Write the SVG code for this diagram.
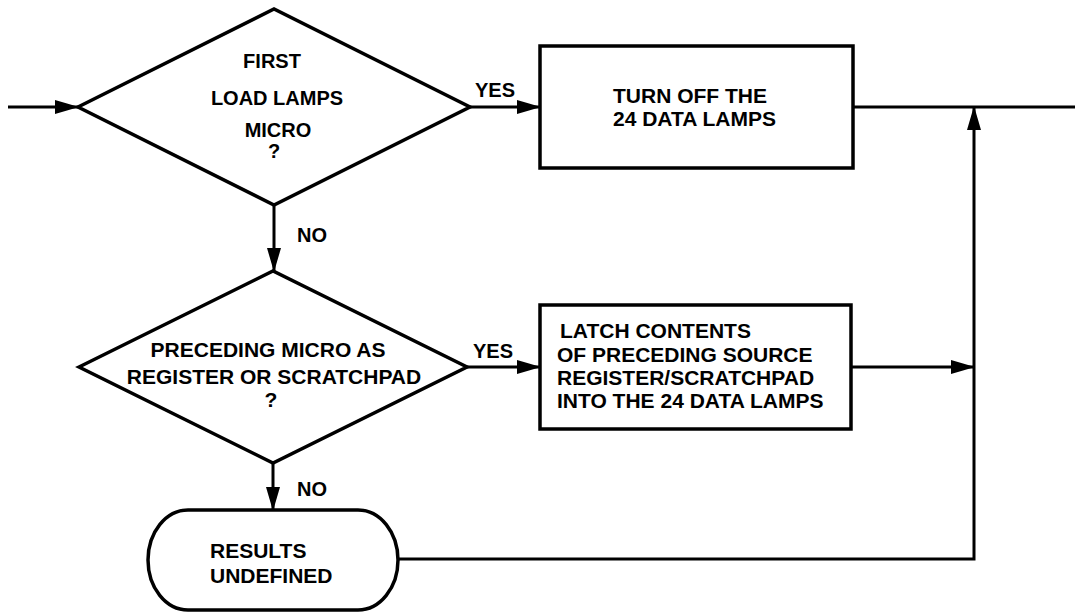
<svg xmlns="http://www.w3.org/2000/svg" width="1075" height="612" viewBox="0 0 1075 612">
<defs>
<style>
.shape{fill:#fff;stroke:#000;stroke-width:3.5;stroke-linejoin:miter}
.conn{fill:none;stroke:#000;stroke-width:3}
.t{font-family:"Liberation Sans",Arial,sans-serif;font-weight:bold;font-size:21px;fill:#000}
.c{text-anchor:middle}
.lbl{font-family:"Liberation Sans",Arial,sans-serif;font-weight:bold;font-size:20px;fill:#000}
</style>
<marker id="ah" markerUnits="userSpaceOnUse" markerWidth="24" markerHeight="14" refX="23" refY="7" orient="auto" viewBox="0 0 24 14">
<path d="M0,0 L24,7 L0,14 Z" fill="#000"/>
</marker>
</defs>
<g id="connectors">
<path class="conn" d="M8,107 H78" marker-end="url(#ah)"/>
<path class="conn" d="M470,107 H540" marker-end="url(#ah)"/>
<path class="conn" d="M853,107 H1075"/>
<path class="conn" d="M274,205 V271" marker-end="url(#ah)"/>
<path class="conn" d="M467,367 H540" marker-end="url(#ah)"/>
<path class="conn" d="M851,367 H974" marker-end="url(#ah)"/>
<path class="conn" d="M273,463 V510" marker-end="url(#ah)"/>
<path class="conn" d="M397,559 H974 V107" marker-end="url(#ah)"/>
<text class="lbl" x="475" y="97">YES</text>
<text class="lbl" x="297" y="242">NO</text>
<text class="lbl" x="473" y="358">YES</text>
<text class="lbl" x="297" y="496">NO</text>
</g>
<g id="decision1">
<polygon class="shape" points="78,107 274,9 470,107 274,205"/>
<text class="t c" x="272" y="68" style="font-size:20px">FIRST</text>
<text class="t c" x="277" y="105" style="font-size:20px">LOAD LAMPS</text>
<text class="t c" x="278" y="137" style="font-size:20px">MICRO</text>
<text class="t c" x="274" y="158" style="font-size:20px">?</text>
</g>
<g id="box1">
<rect class="shape" x="540" y="46" width="313" height="122"/>
<text class="t" x="613" y="103">TURN OFF THE</text>
<text class="t" x="613" y="126">24 DATA LAMPS</text>
</g>
<g id="decision2">
<polygon class="shape" points="79,367 273,271 467,367 273,463"/>
<text class="t c" x="268" y="357">PRECEDING MICRO AS</text>
<text class="t c" x="274" y="384">REGISTER OR SCRATCHPAD</text>
<text class="t c" x="271" y="407">?</text>
</g>
<g id="box2">
<rect class="shape" x="540" y="305" width="311" height="124"/>
<text class="t" x="560" y="338">LATCH CONTENTS</text>
<text class="t" x="557" y="362">OF PRECEDING SOURCE</text>
<text class="t" x="557" y="385">REGISTER/SCRATCHPAD</text>
<text class="t" x="557" y="408">INTO THE 24 DATA LAMPS</text>
</g>
<g id="terminal">
<path class="shape" d="M188,510 H358 A40,50 0 0 1 358,610 H188 A40,50 0 0 1 188,510 Z"/>
<text class="t" x="210" y="558">RESULTS</text>
<text class="t" x="210" y="583">UNDEFINED</text>
</g>
</svg>
